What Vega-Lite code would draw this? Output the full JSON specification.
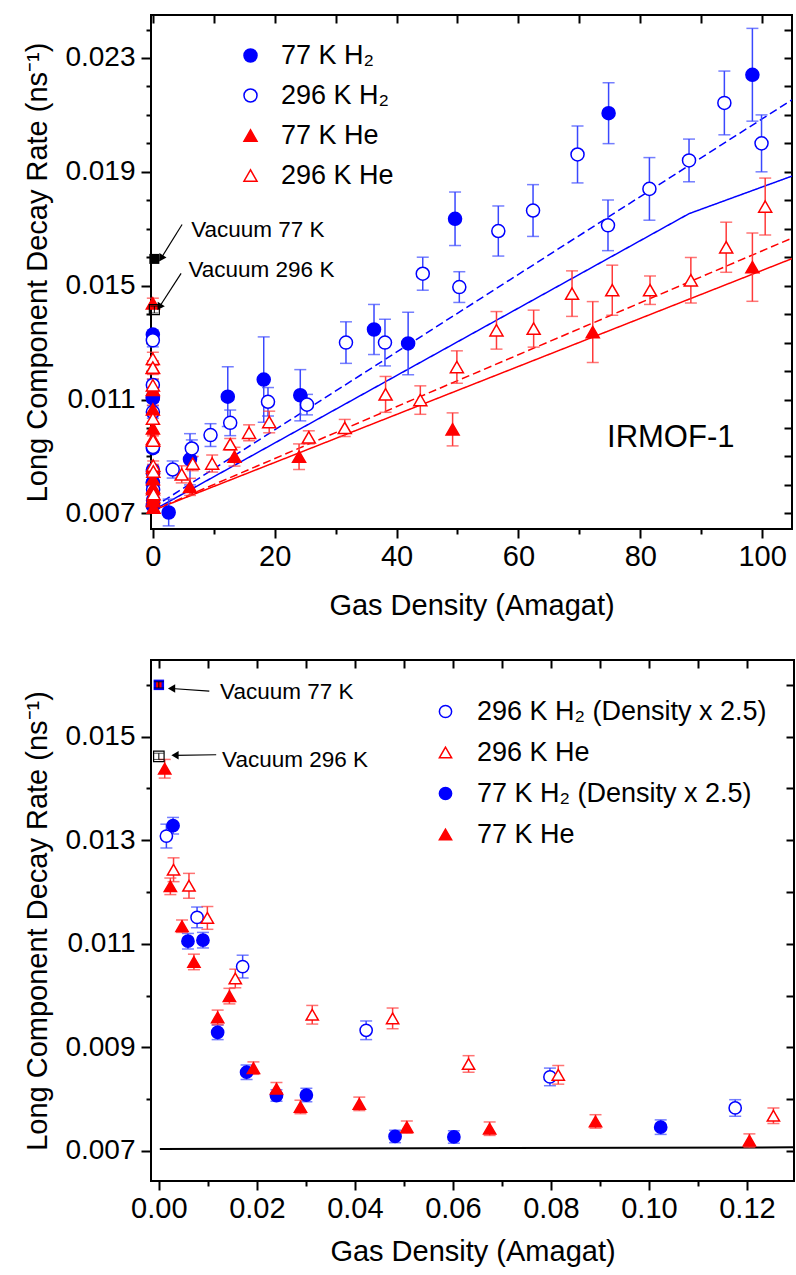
{
  "$schema": "https://vega.github.io/schema/vega-lite/v6.json",
  "padding": {"left": 22, "top": 13, "right": 0, "bottom": 0},
  "background": "white",
  "spacing": 37,
  "config": {
    "view": {"stroke": "black", "strokeWidth": 2},
    "font": "Liberation Sans",
    "axis": {"grid": false, "domain": false, "labelColor": "black", "titleColor": "black", "tickColor": "black", "tickWidth": 2, "titleFontWeight": "normal", "labelFont": "Liberation Sans", "titleFont": "Liberation Sans"},
    "axisX": {"labelFontSize": 29, "titleFontSize": 29, "labelPadding": 4, "titlePadding": 14},
    "axisY": {"labelFontSize": 28, "titleFontSize": 29, "labelPadding": 6, "titlePadding": 12},
    "legend": {"title": null, "labelFont": "Liberation Sans", "labelColor": "black", "labelLimit": 500, "padding": 0, "symbolStrokeWidth": 1.5, "labelOffset": 17}
  },
  "datasets": {
    "top": [
      {"s": "77 K H₂", "x": 2.6, "y": 0.00703, "e": 0.00047},
      {"s": "77 K H₂", "x": 6.1, "y": 0.0089, "e": 0.0009},
      {"s": "77 K H₂", "x": 12.3, "y": 0.0111, "e": 0.00105},
      {"s": "77 K H₂", "x": 18.2, "y": 0.0117, "e": 0.0015},
      {"s": "77 K H₂", "x": 24.2, "y": 0.01115, "e": 0.0009},
      {"s": "77 K H₂", "x": 36.3, "y": 0.01346, "e": 0.00088},
      {"s": "77 K H₂", "x": 41.9, "y": 0.01297, "e": 0.0011},
      {"s": "77 K H₂", "x": 49.6, "y": 0.01735, "e": 0.00094},
      {"s": "77 K H₂", "x": 74.8, "y": 0.02106, "e": 0.00107},
      {"s": "77 K H₂", "x": 98.4, "y": 0.02241, "e": 0.00163},
      {"s": "77 K H₂", "x": 0.0012, "y": 0.01328, "e": 0.00016},
      {"s": "77 K H₂", "x": 0.0024, "y": 0.01105, "e": 0.00015},
      {"s": "77 K H₂", "x": 0.0036, "y": 0.01107, "e": 0.00015},
      {"s": "77 K H₂", "x": 0.0048, "y": 0.00929, "e": 0.00014},
      {"s": "77 K H₂", "x": 0.0072, "y": 0.00852, "e": 0.00014},
      {"s": "77 K H₂", "x": 0.0096, "y": 0.00807, "e": 0.00011},
      {"s": "77 K H₂", "x": 0.012, "y": 0.00808, "e": 0.00013},
      {"s": "77 K H₂", "x": 0.0193, "y": 0.00728, "e": 0.00012},
      {"s": "77 K H₂", "x": 0.0241, "y": 0.00727, "e": 0.00012},
      {"s": "77 K H₂", "x": 0.041, "y": 0.00746, "e": 0.00014},
      {"s": "296 K H₂", "x": 3.26, "y": 0.00854, "e": 0.0003},
      {"s": "296 K H₂", "x": 6.4, "y": 0.00928, "e": 0.0003},
      {"s": "296 K H₂", "x": 9.47, "y": 0.00975, "e": 0.0004},
      {"s": "296 K H₂", "x": 12.7, "y": 0.01018, "e": 0.00045},
      {"s": "296 K H₂", "x": 18.9, "y": 0.01092, "e": 0.0005},
      {"s": "296 K H₂", "x": 25.3, "y": 0.01082, "e": 0.00036},
      {"s": "296 K H₂", "x": 31.7, "y": 0.013, "e": 0.00073},
      {"s": "296 K H₂", "x": 38.1, "y": 0.013, "e": 0.00082},
      {"s": "296 K H₂", "x": 44.3, "y": 0.01542, "e": 0.00058},
      {"s": "296 K H₂", "x": 50.3, "y": 0.01495, "e": 0.00054},
      {"s": "296 K H₂", "x": 56.7, "y": 0.01692, "e": 0.00088},
      {"s": "296 K H₂", "x": 62.4, "y": 0.01764, "e": 0.00091},
      {"s": "296 K H₂", "x": 69.7, "y": 0.01961, "e": 0.001},
      {"s": "296 K H₂", "x": 74.7, "y": 0.01712, "e": 0.00089},
      {"s": "296 K H₂", "x": 81.5, "y": 0.0184, "e": 0.0011},
      {"s": "296 K H₂", "x": 88.0, "y": 0.0194, "e": 0.00075},
      {"s": "296 K H₂", "x": 93.8, "y": 0.02142, "e": 0.00112},
      {"s": "296 K H₂", "x": 99.9, "y": 0.02, "e": 0.001},
      {"s": "296 K H₂", "x": 0.0006, "y": 0.01308, "e": 0.00023},
      {"s": "296 K H₂", "x": 0.0031, "y": 0.01151, "e": 0.0002},
      {"s": "296 K H₂", "x": 0.0068, "y": 0.01056, "e": 0.00022},
      {"s": "296 K H₂", "x": 0.0169, "y": 0.00933, "e": 0.00018},
      {"s": "296 K H₂", "x": 0.0319, "y": 0.00843, "e": 0.00017},
      {"s": "296 K H₂", "x": 0.047, "y": 0.00783, "e": 0.00016},
      {"s": "77 K He", "x": 6.1, "y": 0.00793, "e": 0.0003},
      {"s": "77 K He", "x": 13.4, "y": 0.00899, "e": 0.00033},
      {"s": "77 K He", "x": 24.0, "y": 0.00899, "e": 0.00045},
      {"s": "77 K He", "x": 49.2, "y": 0.00995, "e": 0.00058},
      {"s": "77 K He", "x": 72.2, "y": 0.01337, "e": 0.00107},
      {"s": "77 K He", "x": 98.4, "y": 0.01565, "e": 0.0012},
      {"s": "77 K He", "x": 0.0012, "y": 0.01438, "e": 0.00018},
      {"s": "77 K He", "x": 0.0024, "y": 0.01211, "e": 0.00016},
      {"s": "77 K He", "x": 0.0047, "y": 0.01134, "e": 0.00012},
      {"s": "77 K He", "x": 0.0072, "y": 0.01065, "e": 0.00015},
      {"s": "77 K He", "x": 0.012, "y": 0.00958, "e": 0.00014},
      {"s": "77 K He", "x": 0.0144, "y": 0.00999, "e": 0.00015},
      {"s": "77 K He", "x": 0.0193, "y": 0.0086, "e": 0.00012},
      {"s": "77 K He", "x": 0.024, "y": 0.0082, "e": 0.00012},
      {"s": "77 K He", "x": 0.0289, "y": 0.00785, "e": 0.00013},
      {"s": "77 K He", "x": 0.0409, "y": 0.00791, "e": 0.00013},
      {"s": "77 K He", "x": 0.0506, "y": 0.00746, "e": 0.00012},
      {"s": "77 K He", "x": 0.0675, "y": 0.00743, "e": 0.00013},
      {"s": "77 K He", "x": 0.0891, "y": 0.00757, "e": 0.00013},
      {"s": "77 K He", "x": 0.1205, "y": 0.0072, "e": 0.00013},
      {"s": "296 K He", "x": 4.74, "y": 0.00837, "e": 0.0003},
      {"s": "296 K He", "x": 6.55, "y": 0.00875, "e": 0.00025},
      {"s": "296 K He", "x": 9.74, "y": 0.00875, "e": 0.0003},
      {"s": "296 K He", "x": 12.7, "y": 0.00943, "e": 0.0002},
      {"s": "296 K He", "x": 15.8, "y": 0.00983, "e": 0.00028},
      {"s": "296 K He", "x": 19.1, "y": 0.01021, "e": 0.00038},
      {"s": "296 K He", "x": 25.6, "y": 0.00967, "e": 0.00023},
      {"s": "296 K He", "x": 31.5, "y": 0.01, "e": 0.0003},
      {"s": "296 K He", "x": 38.2, "y": 0.01118, "e": 0.00063},
      {"s": "296 K He", "x": 43.9, "y": 0.01098, "e": 0.0005},
      {"s": "296 K He", "x": 49.9, "y": 0.01214, "e": 0.00057},
      {"s": "296 K He", "x": 56.4, "y": 0.01343, "e": 0.00066},
      {"s": "296 K He", "x": 62.5, "y": 0.01349, "e": 0.00065},
      {"s": "296 K He", "x": 68.8, "y": 0.01472, "e": 0.0008},
      {"s": "296 K He", "x": 75.4, "y": 0.01484, "e": 0.00088},
      {"s": "296 K He", "x": 81.6, "y": 0.01484, "e": 0.0005},
      {"s": "296 K He", "x": 88.3, "y": 0.01519, "e": 0.0008},
      {"s": "296 K He", "x": 94.1, "y": 0.01635, "e": 0.00088},
      {"s": "296 K He", "x": 100.5, "y": 0.01778, "e": 0.001},
      {"s": "296 K He", "x": 0.003, "y": 0.01243, "e": 0.00023},
      {"s": "296 K He", "x": 0.0062, "y": 0.01212, "e": 0.00024},
      {"s": "296 K He", "x": 0.0099, "y": 0.0115, "e": 0.00022},
      {"s": "296 K He", "x": 0.0156, "y": 0.01033, "e": 0.00018},
      {"s": "296 K He", "x": 0.0313, "y": 0.00963, "e": 0.00018},
      {"s": "296 K He", "x": 0.0477, "y": 0.00956, "e": 0.0002},
      {"s": "296 K He", "x": 0.0632, "y": 0.00868, "e": 0.00016},
      {"s": "296 K He", "x": 0.0815, "y": 0.00847, "e": 0.00018},
      {"s": "296 K He", "x": 0.1254, "y": 0.00768, "e": 0.00015}
    ],
    "tvac": [
      {"k": "v77", "x": 0.25, "y": 0.01594, "e": 0.00012},
      {"k": "v296", "x": 0.25, "y": 0.01416, "e": 0.00012}
    ],
    "tlines": [
      {"k": "H77", "x": 0, "y": 0.0071},
      {"k": "H77", "x": 88.0, "y": 0.01753},
      {"k": "H77", "x": 104.9, "y": 0.01885},
      {"k": "H296", "x": 0, "y": 0.0072},
      {"k": "H296", "x": 104.9, "y": 0.02153},
      {"k": "He77", "x": 0, "y": 0.0071},
      {"k": "He77", "x": 104.9, "y": 0.01595},
      {"k": "He296", "x": 0, "y": 0.0071},
      {"k": "He296", "x": 104.9, "y": 0.01667}
    ],
    "tann": [
      {"t": "Vacuum 77 K", "x": 6.3, "y": 0.01694},
      {"t": "Vacuum 296 K", "x": 5.85, "y": 0.01554}
    ],
    "tarrow": [
      {"x": 4.8, "y": 0.01715, "x2": 1.35, "y2": 0.01596},
      {"x": 4.64, "y": 0.01543, "x2": 1.07, "y2": 0.01425}
    ],
    "tlabel": [{"t": "IRMOF-1", "x": 85, "y": 0.00963}],
    "bot": [
      {"s": "296 K H₂ (Density x 2.5)", "x": 0.00154, "y": 0.01308, "e": 0.00023},
      {"s": "296 K H₂ (Density x 2.5)", "x": 0.0078, "y": 0.01151, "e": 0.0002},
      {"s": "296 K H₂ (Density x 2.5)", "x": 0.0171, "y": 0.01056, "e": 0.00022},
      {"s": "296 K H₂ (Density x 2.5)", "x": 0.0423, "y": 0.00933, "e": 0.00018},
      {"s": "296 K H₂ (Density x 2.5)", "x": 0.0798, "y": 0.00843, "e": 0.00017},
      {"s": "296 K H₂ (Density x 2.5)", "x": 0.1176, "y": 0.00783, "e": 0.00016},
      {"s": "296 K He", "x": 0.003, "y": 0.01243, "e": 0.00023},
      {"s": "296 K He", "x": 0.00615, "y": 0.01212, "e": 0.00024},
      {"s": "296 K He", "x": 0.0099, "y": 0.0115, "e": 0.00022},
      {"s": "296 K He", "x": 0.0156, "y": 0.01033, "e": 0.00018},
      {"s": "296 K He", "x": 0.0313, "y": 0.00963, "e": 0.00018},
      {"s": "296 K He", "x": 0.0477, "y": 0.00956, "e": 0.0002},
      {"s": "296 K He", "x": 0.0632, "y": 0.00868, "e": 0.00016},
      {"s": "296 K He", "x": 0.0815, "y": 0.00847, "e": 0.00018},
      {"s": "296 K He", "x": 0.1254, "y": 0.00768, "e": 0.00015},
      {"s": "77 K H₂ (Density x 2.5)", "x": 0.0029, "y": 0.01328, "e": 0.00016},
      {"s": "77 K H₂ (Density x 2.5)", "x": 0.00594, "y": 0.01105, "e": 0.00015},
      {"s": "77 K H₂ (Density x 2.5)", "x": 0.009, "y": 0.01107, "e": 0.00015},
      {"s": "77 K H₂ (Density x 2.5)", "x": 0.012, "y": 0.00929, "e": 0.00014},
      {"s": "77 K H₂ (Density x 2.5)", "x": 0.0179, "y": 0.00852, "e": 0.00014},
      {"s": "77 K H₂ (Density x 2.5)", "x": 0.024, "y": 0.00807, "e": 0.00011},
      {"s": "77 K H₂ (Density x 2.5)", "x": 0.0301, "y": 0.00808, "e": 0.00013},
      {"s": "77 K H₂ (Density x 2.5)", "x": 0.0482, "y": 0.00728, "e": 0.00012},
      {"s": "77 K H₂ (Density x 2.5)", "x": 0.0602, "y": 0.00727, "e": 0.00012},
      {"s": "77 K H₂ (Density x 2.5)", "x": 0.1024, "y": 0.00746, "e": 0.00014},
      {"s": "77 K He", "x": 0.0012, "y": 0.01438, "e": 0.00018},
      {"s": "77 K He", "x": 0.00235, "y": 0.01211, "e": 0.00016},
      {"s": "77 K He", "x": 0.00473, "y": 0.01134, "e": 0.00012},
      {"s": "77 K He", "x": 0.00716, "y": 0.01065, "e": 0.00015},
      {"s": "77 K He", "x": 0.012, "y": 0.00958, "e": 0.00014},
      {"s": "77 K He", "x": 0.0144, "y": 0.00999, "e": 0.00015},
      {"s": "77 K He", "x": 0.0193, "y": 0.0086, "e": 0.00012},
      {"s": "77 K He", "x": 0.024, "y": 0.0082, "e": 0.00012},
      {"s": "77 K He", "x": 0.0289, "y": 0.00785, "e": 0.00013},
      {"s": "77 K He", "x": 0.0409, "y": 0.00791, "e": 0.00013},
      {"s": "77 K He", "x": 0.0506, "y": 0.00746, "e": 0.00012},
      {"s": "77 K He", "x": 0.0675, "y": 0.00743, "e": 0.00013},
      {"s": "77 K He", "x": 0.0891, "y": 0.00757, "e": 0.00013},
      {"s": "77 K He", "x": 0.1205, "y": 0.0072, "e": 0.00013}
    ],
    "bvac": [
      {"k": "v77", "x": 0, "y": 0.016, "e": 0.00006},
      {"k": "v296", "x": 0, "y": 0.01462, "e": 0.00006}
    ],
    "bline": [
      {"x": 0.0002, "y": 0.00704},
      {"x": 0.1296, "y": 0.00707}
    ],
    "bann": [
      {"t": "Vacuum 77 K", "x": 0.0125, "y": 0.01586},
      {"t": "Vacuum 296 K", "x": 0.0129, "y": 0.01454}
    ],
    "barrow": [
      {"x": 0.0103, "y": 0.01588, "x2": 0.0026, "y2": 0.01593},
      {"x": 0.0117, "y": 0.01465, "x2": 0.0033, "y2": 0.01464}
    ]
  },
  "resolve": {
    "scale": {"x": "independent", "y": "independent", "color": "independent", "strokeDash": "independent", "shape": "independent", "fill": "independent", "stroke": "independent"},
    "legend": {"shape": "independent", "fill": "independent", "stroke": "independent"}
  },
  "vconcat": [
    {
      "width": 641,
      "height": 514,
      "resolve": {"axis": {"x": "independent", "y": "independent"}},
      "layer": [
        {
          "data": {"name": "tlines"},
          "mark": {"type": "line", "strokeWidth": 1.5, "clip": true},
          "encoding": {
            "x": {"field": "x", "type": "quantitative", "scale": {"domain": [-0.3, 104.9], "nice": false, "zero": false},
                  "axis": {"orient": "bottom", "values": [0, 20, 40, 60, 80, 100], "tickSize": 9, "titlePadding": 20, "title": "Gas Density (Amagat)"}},
            "y": {"field": "y", "type": "quantitative", "scale": {"domain": [0.00645, 0.02451], "nice": false, "zero": false},
                  "axis": {"orient": "left", "values": [0.007, 0.011, 0.015, 0.019, 0.023], "format": ".3f", "tickSize": 10, "title": "Long Component Decay Rate (ns⁻¹)"}},
            "color": {"field": "k", "type": "nominal", "legend": null, "scale": {"domain": ["H77", "H296", "He77", "He296"], "range": ["#0000ff", "#0000ff", "#ff0000", "#ff0000"]}},
            "strokeDash": {"field": "k", "type": "nominal", "legend": null, "scale": {"domain": ["H77", "H296", "He77", "He296"], "range": [[1, 0], [8, 4], [1, 0], [8, 4]]}}
          }
        },
        {
          "data": {"name": "top"},
          "transform": [{"filter": {"field": "s", "oneOf": ["77 K H₂", "296 K H₂"]}}],
          "mark": {"type": "errorbar", "ticks": true, "size": 12, "thickness": 1.5, "color": "#3a48ff"},
          "encoding": {
            "x": {"field": "x", "type": "quantitative", "axis": null},
            "y": {"field": "y", "type": "quantitative", "axis": null},
            "yError": {"field": "e"}
          }
        },
        {
          "data": {"name": "top"},
          "transform": [{"filter": {"field": "s", "oneOf": ["77 K He", "296 K He"]}}],
          "mark": {"type": "errorbar", "ticks": true, "size": 12, "thickness": 1.5, "color": "#ff3a3a"},
          "encoding": {
            "x": {"field": "x", "type": "quantitative", "axis": null},
            "y": {"field": "y", "type": "quantitative", "axis": null},
            "yError": {"field": "e"}
          }
        },
        {
          "data": {"name": "top"},
          "mark": {"type": "point", "size": 170, "strokeWidth": 1.5, "opacity": 1},
          "encoding": {
            "x": {"field": "x", "type": "quantitative", "axis": {"orient": "bottom", "values": [10, 30, 50, 70, 90], "tickSize": 5, "labels": false, "title": null}},
            "y": {"field": "y", "type": "quantitative", "axis": {"orient": "left", "values": [0.008, 0.009, 0.010, 0.012, 0.013, 0.014, 0.016, 0.017, 0.018, 0.020, 0.021, 0.022, 0.024], "tickSize": 5, "labels": false, "title": null}},
            "shape": {"field": "s", "type": "nominal", "scale": {"domain": ["77 K H₂", "296 K H₂", "77 K He", "296 K He"], "range": ["circle", "circle", "triangle-up", "triangle-up"]},
                      "legend": {"orient": "none", "legendX": 86, "legendY": 27, "labelFontSize": 27, "symbolSize": 170, "rowPadding": 12}},
            "fill": {"field": "s", "type": "nominal", "scale": {"domain": ["77 K H₂", "296 K H₂", "77 K He", "296 K He"], "range": ["#0000ff", "#ffffff", "#ff0000", "#ffffff"]},
                     "legend": {"orient": "none", "legendX": 86, "legendY": 27, "labelFontSize": 27, "symbolSize": 170, "rowPadding": 12}},
            "stroke": {"field": "s", "type": "nominal", "scale": {"domain": ["77 K H₂", "296 K H₂", "77 K He", "296 K He"], "range": ["#0000ff", "#0000ff", "#ff0000", "#ff0000"]},
                       "legend": {"orient": "none", "legendX": 86, "legendY": 27, "labelFontSize": 27, "symbolSize": 170, "rowPadding": 12}}
          }
        },
        {
          "data": {"name": "tvac"},
          "mark": {"type": "errorbar", "ticks": true, "size": 8, "thickness": 1, "color": "black"},
          "encoding": {
            "x": {"field": "x", "type": "quantitative", "axis": null},
            "y": {"field": "y", "type": "quantitative", "axis": null},
            "yError": {"field": "e"}
          }
        },
        {
          "data": {"name": "tvac"},
          "transform": [{"filter": {"field": "k", "equal": "v77"}}],
          "mark": {"type": "point", "shape": "square", "size": 100, "filled": true, "color": "black", "opacity": 1},
          "encoding": {
            "x": {"field": "x", "type": "quantitative", "axis": {"orient": "top", "values": [0, 10, 20, 30, 40, 50, 60, 70, 80, 90, 100], "tickSize": -8, "labels": false, "title": null}},
            "y": {"field": "y", "type": "quantitative", "axis": {"orient": "right", "values": [0.007, 0.008, 0.009, 0.010, 0.011, 0.012, 0.013, 0.014, 0.015, 0.016, 0.017, 0.018, 0.019, 0.020, 0.021, 0.022, 0.023, 0.024], "tickSize": -8, "labels": false, "title": null}}
          }
        },
        {
          "data": {"name": "tvac"},
          "transform": [{"filter": {"field": "k", "equal": "v296"}}],
          "mark": {"type": "point", "shape": "square", "size": 100, "filled": false, "stroke": "black", "strokeWidth": 1.2, "opacity": 1},
          "encoding": {
            "x": {"field": "x", "type": "quantitative", "axis": null},
            "y": {"field": "y", "type": "quantitative", "axis": null}
          }
        },
        {
          "data": {"name": "tarrow"},
          "mark": {"type": "rule", "strokeWidth": 1.2, "color": "black"},
          "encoding": {
            "x": {"field": "x", "type": "quantitative", "axis": null},
            "y": {"field": "y", "type": "quantitative", "axis": null},
            "x2": {"field": "x2"},
            "y2": {"field": "y2"}
          }
        },
        {
          "data": {"name": "tarrow"},
          "mark": {"type": "point", "shape": "triangle-up", "angle": 212, "size": 70, "filled": true, "color": "black", "opacity": 1},
          "encoding": {
            "x": {"field": "x2", "type": "quantitative", "axis": null},
            "y": {"field": "y2", "type": "quantitative", "axis": null}
          }
        },
        {
          "data": {"name": "tann"},
          "mark": {"type": "text", "align": "left", "baseline": "middle", "fontSize": 22.5, "color": "black"},
          "encoding": {
            "x": {"field": "x", "type": "quantitative", "axis": null},
            "y": {"field": "y", "type": "quantitative", "axis": null},
            "text": {"field": "t"}
          }
        },
        {
          "data": {"name": "tlabel"},
          "mark": {"type": "text", "align": "center", "baseline": "middle", "fontSize": 31, "color": "black"},
          "encoding": {
            "x": {"field": "x", "type": "quantitative", "axis": null},
            "y": {"field": "y", "type": "quantitative", "axis": null},
            "text": {"field": "t"}
          }
        }
      ]
    },
    {
      "width": 643,
      "height": 521,
      "resolve": {"axis": {"x": "independent", "y": "independent"}},
      "layer": [
        {
          "data": {"name": "bline"},
          "mark": {"type": "line", "strokeWidth": 2, "color": "black", "clip": true},
          "encoding": {
            "x": {"field": "x", "type": "quantitative", "scale": {"domain": [-0.0016, 0.1296], "nice": false, "zero": false},
                  "axis": {"orient": "bottom", "values": [0, 0.02, 0.04, 0.06, 0.08, 0.10, 0.12], "format": ".2f", "tickSize": 9, "title": "Gas Density (Amagat)"}},
            "y": {"field": "y", "type": "quantitative", "scale": {"domain": [0.00642, 0.01648], "nice": false, "zero": false},
                  "axis": {"orient": "left", "values": [0.007, 0.009, 0.011, 0.013, 0.015], "format": ".3f", "tickSize": 10, "title": "Long Component Decay Rate (ns⁻¹)"}}
          }
        },
        {
          "data": {"name": "bot"},
          "transform": [{"filter": {"field": "s", "oneOf": ["296 K H₂ (Density x 2.5)", "77 K H₂ (Density x 2.5)"]}}],
          "mark": {"type": "errorbar", "ticks": true, "size": 12, "thickness": 1.5, "color": "#3a48ff"},
          "encoding": {
            "x": {"field": "x", "type": "quantitative", "axis": null},
            "y": {"field": "y", "type": "quantitative", "axis": null},
            "yError": {"field": "e"}
          }
        },
        {
          "data": {"name": "bot"},
          "transform": [{"filter": {"field": "s", "oneOf": ["296 K He", "77 K He"]}}],
          "mark": {"type": "errorbar", "ticks": true, "size": 12, "thickness": 1.5, "color": "#ff3a3a"},
          "encoding": {
            "x": {"field": "x", "type": "quantitative", "axis": null},
            "y": {"field": "y", "type": "quantitative", "axis": null},
            "yError": {"field": "e"}
          }
        },
        {
          "data": {"name": "bot"},
          "mark": {"type": "point", "size": 150, "strokeWidth": 1.5, "opacity": 1},
          "encoding": {
            "x": {"field": "x", "type": "quantitative", "axis": {"orient": "bottom", "values": [0.01, 0.03, 0.05, 0.07, 0.09, 0.11], "tickSize": 5, "labels": false, "title": null}},
            "y": {"field": "y", "type": "quantitative", "axis": {"orient": "left", "values": [0.008, 0.010, 0.012, 0.014, 0.016], "tickSize": 5, "labels": false, "title": null}},
            "shape": {"field": "s", "type": "nominal", "scale": {"domain": ["296 K H₂ (Density x 2.5)", "296 K He", "77 K H₂ (Density x 2.5)", "77 K He"], "range": ["circle", "triangle-up", "circle", "triangle-up"]},
                      "legend": {"orient": "none", "legendX": 281, "legendY": 38, "labelFontSize": 27, "symbolSize": 150, "rowPadding": 13, "labelOffset": 18}},
            "fill": {"field": "s", "type": "nominal", "scale": {"domain": ["296 K H₂ (Density x 2.5)", "296 K He", "77 K H₂ (Density x 2.5)", "77 K He"], "range": ["#ffffff", "#ffffff", "#0000ff", "#ff0000"]},
                     "legend": {"orient": "none", "legendX": 281, "legendY": 38, "labelFontSize": 27, "symbolSize": 150, "rowPadding": 13, "labelOffset": 18}},
            "stroke": {"field": "s", "type": "nominal", "scale": {"domain": ["296 K H₂ (Density x 2.5)", "296 K He", "77 K H₂ (Density x 2.5)", "77 K He"], "range": ["#0000ff", "#ff0000", "#0000ff", "#ff0000"]},
                       "legend": {"orient": "none", "legendX": 281, "legendY": 38, "labelFontSize": 27, "symbolSize": 150, "rowPadding": 13, "labelOffset": 18}}
          }
        },
        {
          "data": {"name": "bvac"},
          "transform": [{"filter": {"field": "k", "equal": "v77"}}],
          "mark": {"type": "point", "shape": "square", "size": 110, "filled": true, "color": "#0000ff", "opacity": 1},
          "encoding": {
            "x": {"field": "x", "type": "quantitative", "axis": {"orient": "top", "values": [0, 0.01, 0.02, 0.03, 0.04, 0.05, 0.06, 0.07, 0.08, 0.09, 0.10, 0.11, 0.12], "tickSize": -8, "labels": false, "title": null}},
            "y": {"field": "y", "type": "quantitative", "axis": {"orient": "right", "values": [0.007, 0.008, 0.009, 0.010, 0.011, 0.012, 0.013, 0.014, 0.015, 0.016], "tickSize": -8, "labels": false, "title": null}}
          }
        },
        {
          "data": {"name": "bvac"},
          "transform": [{"filter": {"field": "k", "equal": "v77"}}],
          "mark": {"type": "point", "shape": "square", "size": 30, "filled": true, "color": "#ff0000", "opacity": 1},
          "encoding": {
            "x": {"field": "x", "type": "quantitative", "axis": null},
            "y": {"field": "y", "type": "quantitative", "axis": null}
          }
        },
        {
          "data": {"name": "bvac"},
          "transform": [{"filter": {"field": "k", "equal": "v296"}}],
          "mark": {"type": "point", "shape": "square", "size": 110, "filled": false, "stroke": "black", "strokeWidth": 1.2, "opacity": 1},
          "encoding": {
            "x": {"field": "x", "type": "quantitative", "axis": null},
            "y": {"field": "y", "type": "quantitative", "axis": null}
          }
        },
        {
          "data": {"name": "bvac"},
          "mark": {"type": "errorbar", "ticks": true, "size": 10, "thickness": 1, "color": "black"},
          "encoding": {
            "x": {"field": "x", "type": "quantitative", "axis": null},
            "y": {"field": "y", "type": "quantitative", "axis": null},
            "yError": {"field": "e"}
          }
        },
        {
          "data": {"name": "barrow"},
          "mark": {"type": "rule", "strokeWidth": 1.2, "color": "black"},
          "encoding": {
            "x": {"field": "x", "type": "quantitative", "axis": null},
            "y": {"field": "y", "type": "quantitative", "axis": null},
            "x2": {"field": "x2"},
            "y2": {"field": "y2"}
          }
        },
        {
          "data": {"name": "barrow"},
          "mark": {"type": "point", "shape": "triangle-left", "size": 70, "filled": true, "color": "black", "opacity": 1},
          "encoding": {
            "x": {"field": "x2", "type": "quantitative", "axis": null},
            "y": {"field": "y2", "type": "quantitative", "axis": null}
          }
        },
        {
          "data": {"name": "bann"},
          "mark": {"type": "text", "align": "left", "baseline": "middle", "fontSize": 22.5, "color": "black"},
          "encoding": {
            "x": {"field": "x", "type": "quantitative", "axis": null},
            "y": {"field": "y", "type": "quantitative", "axis": null},
            "text": {"field": "t"}
          }
        }
      ]
    }
  ]
}
